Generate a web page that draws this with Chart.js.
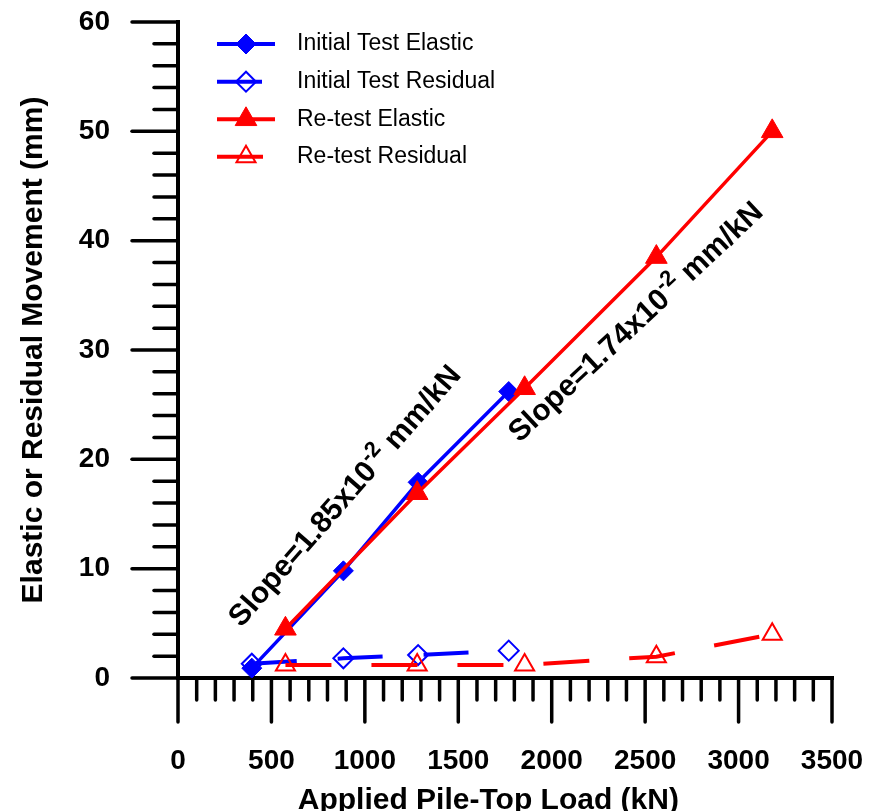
<!DOCTYPE html>
<html>
<head>
<meta charset="utf-8">
<script src="https://cdn.jsdelivr.net/npm/chart.js@4/dist/chart.umd.min.js"></script>
<style>
  html, body { margin: 0; padding: 0; background: #fff; overflow: hidden; }
  #wrap { width: 884px; height: 811px; }
</style>
</head>
<body>
<div id="wrap"><canvas id="myChart"></canvas></div>
<script>
// values: load in kN, movement in mm
const initLoad = [395, 885, 1285, 1770];
const initElastic = [0.9, 9.8, 17.9, 26.2];
const initResidual = [1.3, 1.8, 2.1, 2.5];

const retestLoad = [575, 1280, 1855, 2560, 3180];
const retestElastic = [4.5, 16.9, 26.5, 38.5, 50.0];
const retestResidual = [1.2, 1.2, 1.2, 1.95, 4.0];

const seriesNames = ['Initial Test Elastic', 'Initial Test Residual', 'Re-test Elastic', 'Re-test Residual'];

// axis range / tick steps (major, minor)
const xRange = [0, 3500];
const xSteps = [500, 100];
const yRange = [0, 60];
const ySteps = [10, 2];

// slope notes, anchored in data units
const slopeText = ['1.85', '1.74'];
const slopeAt = [[897, 16.6], [2453, 32.5]];
const slopeAngle = [48.8, 43.1];

const FONT = '"Liberation Sans", Arial, sans-serif';
const BLUE = '#0000ff';
const RED = '#ff0000';

function pairs(xs, ys) {
    return xs.map((x, i) => ({ x: x, y: ys[i] }));
}

// keep the tick padding from pushing the plot area inwards
function fixSize(scale, w, h) {
    if (w) scale.width = w;
    if (h) scale.height = h;
    scale.paddingTop = scale.paddingBottom = scale.paddingLeft = scale.paddingRight = 0;
}

const datasets = [
    {
        label: seriesNames[0],
        data: pairs(initLoad, initElastic),
        borderColor: BLUE,
        borderWidth: 3.5,
        pointStyle: 'rectRot',
        pointRadius: 10,
        pointBackgroundColor: BLUE,
        pointBorderColor: BLUE,
        pointBorderWidth: 1,
        order: 2
    },
    {
        label: seriesNames[1],
        data: pairs(initLoad, initResidual),
        borderColor: BLUE,
        borderWidth: 4,
        borderDash: [45, 41],
        pointStyle: 'rectRot',
        pointRadius: 10,
        pointBackgroundColor: 'rgba(0,0,0,0)',
        pointBorderColor: BLUE,
        pointBorderWidth: 2,
        order: 3
    },
    {
        label: seriesNames[2],
        data: pairs(retestLoad, retestElastic),
        borderColor: RED,
        borderWidth: 3.5,
        pointStyle: 'triangle',
        pointRadius: 12.5,
        pointBackgroundColor: RED,
        pointBorderColor: RED,
        pointBorderWidth: 1,
        order: 0
    },
    {
        label: seriesNames[3],
        data: pairs(retestLoad, retestResidual),
        borderColor: RED,
        borderWidth: 4,
        borderDash: [46, 40],
        pointStyle: 'triangle',
        pointRadius: 11,
        pointBackgroundColor: 'rgba(0,0,0,0)',
        pointBorderColor: RED,
        pointBorderWidth: 2,
        order: 1
    }
];

// axis lines with long/short ticks, drawn under the data
const axesPlugin = {
    id: 'axesPlugin',
    beforeDatasetsDraw(chart) {
        const ctx = chart.ctx;
        const xs = chart.scales.x, ys = chart.scales.y;
        const area = chart.chartArea;
        ctx.save();
        ctx.strokeStyle = '#000';
        ctx.lineCap = 'round';
        ctx.lineWidth = 3.5;
        for (let v = xRange[0]; v <= xRange[1]; v += xSteps[1]) {
            const px = xs.getPixelForValue(v);
            const len = v % xSteps[0] === 0 ? 44 : 22;
            ctx.beginPath();
            ctx.moveTo(px, area.bottom);
            ctx.lineTo(px, area.bottom + len);
            ctx.stroke();
        }
        for (let v = yRange[0]; v <= yRange[1]; v += ySteps[1]) {
            const py = ys.getPixelForValue(v);
            const len = v % ySteps[0] === 0 ? 46 : 24;
            ctx.beginPath();
            ctx.moveTo(area.left, py);
            ctx.lineTo(area.left - len, py);
            ctx.stroke();
        }
        ctx.lineWidth = 4;
        ctx.lineCap = 'butt';
        ctx.beginPath();
        ctx.moveTo(area.left, area.top - 2);
        ctx.lineTo(area.left, area.bottom);
        ctx.lineTo(area.right + 2, area.bottom);
        ctx.stroke();
        ctx.restore();
    }
};

// line + marker legend in the top-left corner, plus the two slope notes
const notesPlugin = {
    id: 'notesPlugin',
    afterDatasetsDraw(chart) {
        const ctx = chart.ctx;
        const rowsY = [44, 81.7, 119.3, 156.7];

        ctx.save();
        chart.data.datasets.forEach((ds, i) => {
            const y = rowsY[i];
            ctx.strokeStyle = ds.borderColor;
            ctx.lineWidth = 4;
            ctx.setLineDash(ds.borderDash || []);
            ctx.beginPath();
            ctx.moveTo(217, y);
            ctx.lineTo(275, y);
            ctx.stroke();
            ctx.setLineDash([]);

            ctx.fillStyle = ds.pointBackgroundColor;
            ctx.strokeStyle = ds.pointBorderColor;
            ctx.lineWidth = ds.pointBorderWidth;
            Chart.helpers.drawPoint(ctx, {
                pointStyle: ds.pointStyle,
                radius: ds.pointRadius,
                rotation: 0,
                borderWidth: ds.pointBorderWidth
            }, 246, y);

            ctx.fillStyle = '#000';
            ctx.font = '23px ' + FONT;
            ctx.textBaseline = 'middle';
            ctx.textAlign = 'left';
            ctx.fillText(ds.label, 297, y);
        });

        const xs = chart.scales.x, ys = chart.scales.y;
        slopeText.forEach((m, i) => {
            const px = xs.getPixelForValue(slopeAt[i][0]);
            const py = ys.getPixelForValue(slopeAt[i][1]);
            const a = 'Slope=' + m + 'x10', b = '-2', c = ' mm/kN';
            const big = 'bold 30px ' + FONT, small = 'bold 22px ' + FONT;
            ctx.save();
            ctx.translate(px, py);
            ctx.rotate(-slopeAngle[i] * Math.PI / 180);
            ctx.textBaseline = 'middle';
            ctx.textAlign = 'left';
            ctx.fillStyle = '#000';
            ctx.font = big;
            const wa = ctx.measureText(a).width, wc = ctx.measureText(c).width;
            ctx.font = small;
            const wb = ctx.measureText(b).width;
            let x = -(wa + wb + wc) / 2;
            ctx.font = big;
            ctx.fillText(a, x, 0);
            x += wa;
            ctx.font = small;
            ctx.fillText(b, x, -10);
            x += wb;
            ctx.font = big;
            ctx.fillText(c, x, 0);
            ctx.restore();
        });
        ctx.restore();
    }
};

const ctx = document.getElementById('myChart').getContext('2d');
const myChart = new Chart(ctx, {
    type: 'line',
    data: { datasets: datasets },
    options: {
        responsive: true,
        maintainAspectRatio: false,
        animation: false,
        events: [],
        layout: { padding: { top: 22, right: 52, left: 0, bottom: 0 } },
        elements: { line: { tension: 0 } },
        plugins: {
            legend: { display: false },
            tooltip: { enabled: false }
        },
        scales: {
            x: {
                type: 'linear',
                position: 'bottom',
                min: xRange[0],
                max: xRange[1],
                grid: { display: false, drawTicks: false },
                border: { display: false },
                ticks: {
                    stepSize: xSteps[0],
                    autoSkip: false,
                    maxRotation: 0,
                    padding: 66,
                    color: '#000',
                    font: { family: FONT, size: 28, weight: 'bold' },
                    callback: v => String(v)
                },
                title: {
                    display: true,
                    text: 'Applied Pile-Top Load (kN)    ',
                    color: '#000',
                    font: { family: FONT, size: 30, weight: 'bold' },
                    padding: { top: 0, bottom: -8 }
                },
                afterFit(scale) { fixSize(scale, 0, 133); }
            },
            y: {
                type: 'linear',
                min: yRange[0],
                max: yRange[1],
                grid: { display: false, drawTicks: false },
                border: { display: false },
                ticks: {
                    stepSize: ySteps[0],
                    padding: 68,
                    color: '#000',
                    font: { family: FONT, size: 28, weight: 'bold' }
                },
                title: {
                    display: true,
                    text: 'Elastic or Residual Movement (mm)',
                    color: '#000',
                    font: { family: FONT, size: 30, weight: 'bold' },
                    padding: { top: 16, bottom: 0 }
                },
                afterFit(scale) { fixSize(scale, 178, 0); }
            }
        }
    },
    plugins: [axesPlugin, notesPlugin]
});
</script>
</body>
</html>
